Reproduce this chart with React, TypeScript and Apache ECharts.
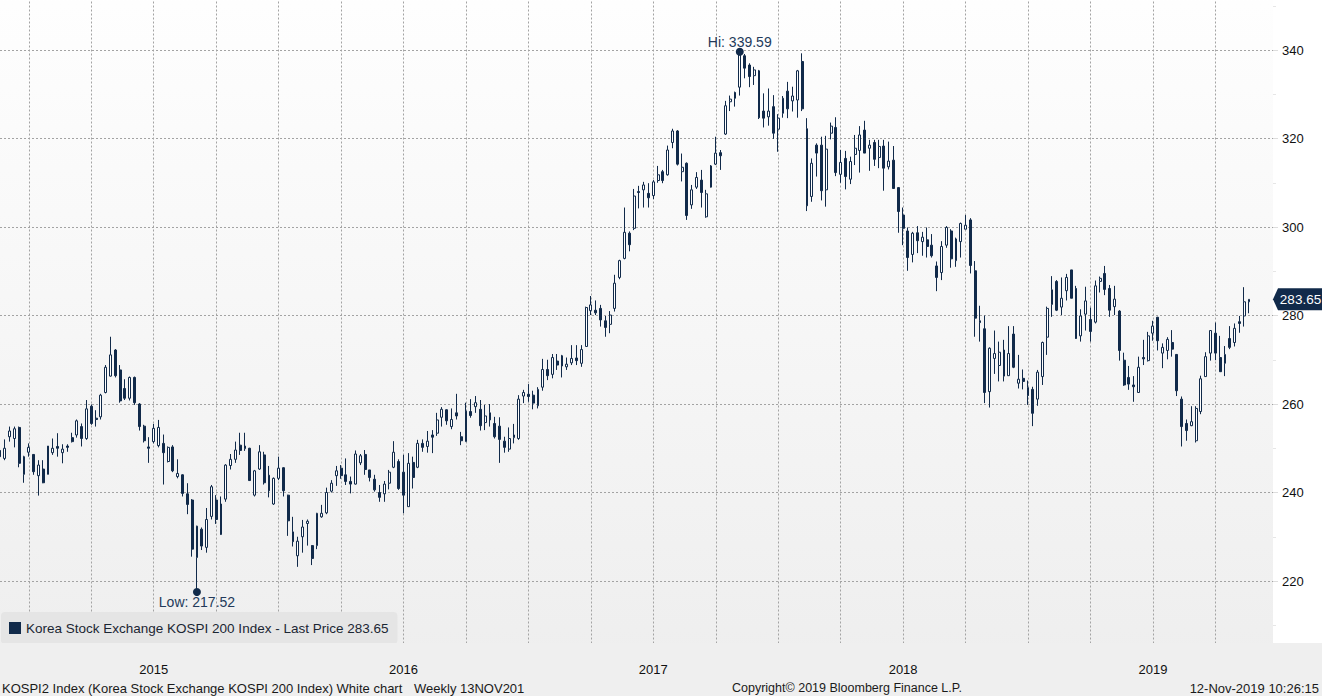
import { useEffect, useRef } from "react";
import * as echarts from "echarts";

// ---- data (weekly bars, KOSPI 200) ----
const opens = [
  249.5, 247.7, 252.6, 252.2, 254.7, 244.1, 249.1, 248.6, 243.8, 245.3,
  244.1, 249.0, 250.4, 249.0, 250.5, 252.4, 253.0, 254.9, 252.2, 259.5,
  256.8, 257.1, 262.6, 266.3, 272.2, 267.7, 263.5, 261.3, 266.0, 260.0,
  255.0, 250.3, 251.5, 250.6, 251.1, 247.0, 250.3, 243.6, 244.0, 239.7,
  238.3, 225.3, 231.7, 227.6, 234.6, 238.3, 230.5, 238.5, 246.1, 247.5,
  250.7, 249.9, 250.0, 239.4, 245.3, 248.5, 243.9, 237.4, 243.2, 245.6,
  239.4, 231.1, 225.7, 230.0, 233.0, 228.0, 228.0, 234.5, 235.4, 240.3,
  243.8, 245.5, 244.0, 242.5, 241.9, 246.7, 248.6, 245.1, 243.0, 240.0,
  239.7, 242.1, 245.7, 247.0, 244.6, 236.8, 246.8, 245.7, 251.1, 250.4,
  253.0, 253.4, 257.0, 258.7, 254.9, 258.0, 252.6, 251.5, 258.3, 259.4,
  258.8, 255.8, 258.0, 255.6, 255.0, 251.6, 249.8, 252.4, 252.2, 261.8,
  262.2, 262.0, 259.6, 263.8, 267.8, 266.7, 269.7, 270.9, 268.4, 269.3,
  270.4, 269.2, 273.0, 281.1, 281.2, 281.6, 278.8, 278.0, 281.6, 288.6,
  292.9, 298.6, 299.7, 308.0, 308.4, 307.6, 307.1, 310.5, 312.5, 311.8,
  319.1, 321.7, 312.5, 314.4, 305.0, 309.0, 310.6, 302.3, 309.0, 314.2,
  316.8, 321.0, 328.3, 330.4, 331.6, 338.7, 336.6, 334.2, 335.3, 326.2,
  324.9, 327.2, 322.1, 325.7, 330.7, 328.5, 328.7, 337.4, 322.2, 306.9,
  318.5, 318.5, 308.4, 321.2, 322.5, 311.9, 315.5, 310.8, 316.4, 317.3,
  321.9, 317.8, 319.1, 315.7, 318.3, 313.6, 315.1, 308.9, 302.7, 299.1,
  293.8, 298.7, 296.7, 297.1, 295.9, 291.2, 289.7, 295.9, 299.1, 292.4,
  296.7, 299.5, 301.6, 290.1, 278.8, 277.0, 262.8, 270.3, 268.7, 272.2,
  266.4, 275.8, 264.7, 265.8, 263.7, 263.3, 261.1, 266.2, 275.1, 282.5,
  287.7, 281.9, 285.6, 290.3, 286.1, 275.4, 280.3, 279.1, 278.5, 287.7,
  289.5, 286.1, 282.0, 281.0, 269.9, 266.0, 264.3, 262.6, 270.5, 269.8,
  276.0, 279.6, 271.5, 272.1, 273.9, 271.2, 261.1, 255.6, 255.1, 251.7,
  258.3, 266.2, 271.5, 276.0, 270.5, 269.2, 274.8, 273.9, 278.6, 279.9,
  283.1,
];

const closes = [
  248.1, 250.0, 253.9, 254.4, 246.6, 248.1, 250.2, 244.7, 246.2, 242.2,
  250.5, 250.0, 250.0, 249.8, 250.2, 251.5, 256.2, 252.2, 258.9, 255.6,
  256.5, 262.0, 268.3, 271.1, 266.4, 260.7, 261.3, 266.0, 260.3, 254.9,
  251.7, 250.0, 254.5, 254.7, 249.0, 250.2, 244.9, 244.3, 239.8, 237.3,
  227.2, 232.4, 227.9, 233.9, 241.3, 233.9, 237.4, 246.2, 247.5, 249.6,
  249.5, 250.5, 242.7, 244.9, 249.2, 242.2, 240.4, 243.2, 245.5, 240.4,
  233.6, 228.9, 229.0, 232.2, 233.5, 225.1, 235.3, 235.3, 240.0, 242.1,
  244.9, 243.8, 242.5, 241.9, 248.7, 248.3, 245.2, 243.4, 240.6, 238.9,
  241.9, 244.6, 249.1, 240.9, 239.4, 246.6, 243.4, 251.1, 250.2, 251.6,
  252.5, 256.4, 258.8, 256.2, 256.5, 257.3, 251.7, 258.4, 257.4, 260.3,
  255.1, 257.3, 256.4, 252.6, 252.0, 250.2, 252.2, 253.0, 261.1, 262.6,
  261.7, 260.2, 263.3, 267.8, 266.4, 270.5, 268.8, 268.6, 269.0, 270.3,
  269.8, 272.3, 281.8, 282.4, 280.6, 279.0, 277.3, 280.1, 287.3, 292.4,
  298.8, 296.0, 307.0, 307.8, 309.5, 306.6, 310.2, 311.8, 310.5, 317.4,
  321.7, 314.2, 313.5, 302.6, 308.4, 311.2, 307.8, 307.5, 313.8, 316.7,
  316.1, 327.4, 328.9, 329.1, 338.9, 335.9, 334.0, 335.5, 324.7, 324.6,
  326.2, 321.2, 324.6, 329.1, 326.7, 329.6, 335.3, 326.7, 304.8, 314.4,
  316.7, 308.2, 317.6, 322.8, 312.3, 314.6, 311.4, 314.8, 317.8, 320.8,
  316.7, 318.5, 315.3, 318.2, 313.3, 314.9, 308.7, 303.5, 299.7, 293.1,
  298.6, 296.9, 297.7, 295.6, 293.5, 288.6, 295.6, 299.9, 292.8, 297.3,
  300.8, 300.4, 291.3, 279.4, 278.4, 262.6, 272.6, 271.4, 271.7, 266.3,
  271.4, 268.3, 265.6, 265.1, 261.9, 257.9, 267.2, 273.9, 281.6, 285.8,
  281.2, 283.9, 288.6, 283.9, 274.8, 279.9, 283.3, 276.4, 286.7, 288.4,
  285.9, 281.2, 283.7, 272.1, 264.3, 264.5, 263.9, 268.3, 270.2, 275.4,
  277.6, 274.3, 272.8, 274.6, 272.4, 263.0, 254.9, 254.0, 256.0, 259.0,
  265.7, 270.7, 276.6, 271.5, 267.3, 271.2, 272.8, 277.1, 278.2, 283.1,
  283.65,
];

const highs = [
  252.2, 252.0, 254.9, 254.9, 254.9, 248.3, 251.1, 248.6, 247.3, 247.3,
  250.5, 252.2, 253.4, 250.9, 250.9, 253.5, 256.5, 255.6, 260.9, 259.9,
  258.6, 262.3, 268.8, 275.2, 272.4, 268.8, 265.6, 266.2, 266.2, 260.2,
  255.3, 252.5, 255.5, 256.4, 253.1, 250.4, 250.7, 247.5, 244.1, 242.1,
  238.5, 232.5, 232.1, 236.5, 241.7, 239.4, 239.1, 246.4, 248.7, 251.5,
  253.5, 253.5, 250.1, 245.1, 250.7, 249.2, 246.0, 243.4, 248.1, 245.7,
  239.5, 234.5, 230.0, 233.8, 233.9, 228.1, 235.4, 237.2, 241.1, 242.8,
  246.0, 246.2, 247.7, 243.6, 249.5, 248.7, 249.6, 245.1, 244.0, 241.7,
  242.6, 245.1, 251.6, 247.5, 248.5, 248.9, 248.1, 251.9, 252.0, 253.9,
  254.1, 258.0, 259.3, 258.8, 259.0, 262.3, 253.7, 260.3, 261.1, 261.8,
  260.9, 259.8, 260.0, 257.1, 257.0, 252.6, 254.7, 255.5, 262.0, 263.2,
  264.5, 263.0, 263.8, 270.2, 270.0, 271.3, 271.3, 271.1, 270.5, 273.3,
  273.3, 273.3, 282.0, 284.4, 283.4, 282.4, 279.9, 281.0, 289.2, 292.6,
  304.4, 299.0, 308.6, 309.3, 310.2, 309.9, 310.6, 313.8, 312.9, 318.4,
  322.2, 321.9, 316.6, 314.6, 309.5, 312.4, 312.9, 308.4, 314.0, 320.4,
  317.4, 328.5, 329.7, 330.6, 339.59, 339.1, 337.0, 336.2, 335.5, 330.2,
  331.3, 329.8, 325.5, 329.6, 332.8, 331.7, 335.5, 339.25, 324.6, 315.5,
  318.9, 320.4, 320.6, 323.6, 324.8, 317.4, 317.2, 315.9, 320.8, 322.8,
  324.0, 319.7, 319.7, 319.7, 319.7, 319.3, 318.3, 309.0, 304.4, 299.9,
  298.9, 300.2, 298.9, 299.9, 298.4, 292.2, 296.8, 300.2, 299.5, 297.6,
  301.0, 302.7, 302.0, 292.3, 282.2, 280.0, 272.8, 276.6, 274.1, 274.5,
  277.6, 277.6, 271.1, 267.8, 265.3, 263.9, 267.7, 274.1, 282.0, 288.9,
  288.0, 288.6, 289.4, 290.3, 286.7, 281.4, 286.5, 281.8, 287.9, 288.8,
  291.2, 286.9, 286.7, 281.2, 271.6, 268.6, 266.3, 270.7, 274.5, 276.3,
  278.8, 279.7, 273.7, 275.1, 276.7, 271.3, 261.7, 256.5, 259.5, 259.5,
  266.4, 271.7, 276.7, 278.4, 275.4, 273.1, 277.6, 278.2, 279.9, 286.4,
  283.65,
];

const lows = [
  247.7, 247.3, 251.5, 250.2, 245.7, 242.2, 248.1, 244.0, 239.3, 242.1,
  244.1, 248.5, 248.1, 246.6, 249.2, 251.3, 252.4, 250.4, 251.9, 255.3,
  254.9, 256.5, 262.4, 266.2, 266.0, 260.3, 260.9, 260.8, 259.8, 254.0,
  251.3, 246.7, 251.1, 250.2, 241.8, 246.8, 244.6, 243.2, 239.1, 235.1,
  225.5, 217.52, 227.0, 226.4, 233.9, 232.9, 230.4, 237.9, 245.2, 246.7,
  248.5, 249.4, 242.6, 239.1, 245.1, 241.8, 238.9, 237.2, 242.8, 239.1,
  230.2, 227.8, 223.2, 226.4, 228.0, 223.6, 227.2, 234.3, 235.1, 240.0,
  241.5, 243.1, 241.7, 239.8, 241.8, 246.2, 244.0, 242.5, 240.2, 237.9,
  237.9, 240.7, 245.5, 240.6, 235.3, 236.8, 240.9, 245.5, 249.2, 249.0,
  248.9, 252.8, 254.9, 255.3, 254.3, 256.5, 250.7, 251.5, 256.9, 258.0,
  254.0, 254.1, 254.9, 252.2, 246.7, 249.0, 249.2, 251.1, 251.9, 260.2,
  260.5, 258.8, 259.0, 263.0, 265.4, 265.8, 267.7, 266.0, 267.7, 268.8,
  268.8, 268.4, 273.0, 280.1, 280.1, 277.5, 275.2, 276.0, 280.9, 288.2,
  292.7, 294.5, 299.3, 304.2, 304.4, 304.4, 306.3, 310.0, 309.9, 311.6,
  317.8, 313.9, 310.3, 301.6, 304.1, 308.6, 304.4, 302.1, 308.9, 314.0,
  312.9, 320.8, 326.2, 327.2, 329.7, 333.6, 331.6, 332.1, 324.4, 322.5,
  322.9, 319.9, 317.0, 324.7, 324.6, 326.1, 324.7, 326.2, 303.6, 305.7,
  311.4, 306.0, 304.6, 319.8, 311.5, 310.0, 308.5, 309.7, 314.0, 312.3,
  316.7, 312.7, 313.8, 313.3, 308.2, 313.0, 308.6, 298.7, 295.9, 290.1,
  292.0, 294.1, 293.5, 293.1, 293.1, 285.5, 288.0, 295.3, 290.8, 291.0,
  293.1, 299.5, 289.5, 275.2, 274.1, 260.2, 259.2, 266.8, 265.1, 265.1,
  266.4, 268.1, 263.5, 263.3, 259.8, 255.0, 259.6, 264.3, 271.1, 279.7,
  281.0, 280.1, 283.4, 283.9, 274.7, 274.1, 276.6, 274.1, 278.2, 285.2,
  284.6, 279.7, 280.1, 269.8, 264.1, 263.2, 260.5, 262.6, 268.8, 269.6,
  274.3, 272.1, 268.1, 270.1, 270.7, 261.8, 250.4, 251.7, 255.0, 251.3,
  257.7, 266.2, 269.8, 269.9, 267.3, 266.3, 272.4, 273.0, 276.1, 277.5,
  280.5,
];

const seriesName = "Korea Stock Exchange KOSPI 200 Index - Last Price 283.65";
const lastPrice = 283.65;
const yMin = 200;
const yMax = 360;
const yStep = 20;
const footerLeft = "KOSPI2 Index (Korea Stock Exchange KOSPI 200 Index) White chart";
const footerWeekly = "Weekly 13NOV201";
const footerCopy = "Copyright\u00A9 2019 Bloomberg Finance L.P.";
const footerStamp = "12-Nov-2019 10:26:15";

// weekly axis slots (week-start Mondays), a few empty weeks after the last bar
const FIRST_WEEK_UTC = Date.UTC(2014, 10, 17);
const AXIS_WEEKS = 266;
const DAY = 86400000;
const weeks: string[] = [];
for (let i = 0; i < AXIS_WEEKS; i++) {
  weeks.push(new Date(FIRST_WEEK_UTC + i * 7 * DAY).toISOString().slice(0, 10));
}
function quarterStartAt(i: number): Date | null {
  for (let k = 2; k <= 8; k++) {
    const d = new Date(FIRST_WEEK_UTC + (i * 7 + k) * DAY);
    if (d.getUTCDate() === 1 && d.getUTCMonth() % 3 === 0) return d;
  }
  return null;
}

const NAVY = "#112a4a";
const FONT = "'Liberation Sans', Arial, sans-serif";
const GRID_LINE = { color: "#a3a3a3", type: [2, 2] as number[], width: 1 };

// the chart canvas is taller than the page and shifted up, so the value axis
// (200..360) can run past the visible top edge
const W = 1322;
const H = 696;
const SHIFT = 39;

export default function App() {
  const ref = useRef<HTMLDivElement>(null);
  useEffect(() => {
    document.body.style.margin = "0";
    const chart = echarts.init(ref.current!, null, { renderer: "svg" });

    const candles = opens.map((o, i) => [o, closes[i], lows[i], highs[i]]);
    let hiIdx = 0;
    let loIdx = 0;
    highs.forEach((h, i) => { if (h > highs[hiIdx]) hiIdx = i; });
    lows.forEach((l, i) => { if (l < lows[loIdx]) loIdx = i; });

    const option: any = {
      animation: false,
      backgroundColor: "#ffffff",
      textStyle: { fontFamily: FONT },
      grid: {
        left: 0,
        right: 49,
        top: SHIFT - 38.5,
        bottom: 26.5,
        show: true,
        borderWidth: 0,
        backgroundColor: new echarts.graphic.LinearGradient(0, 0, 0, 1, [
          { offset: 0, color: "#ffffff" },
          { offset: 1, color: "#eeeeee" },
        ]),
      },
      legend: {
        left: 1,
        top: 612 + SHIFT,
        padding: [9, 9, 9, 8],
        backgroundColor: "#e5e5e5",
        borderRadius: 4,
        itemWidth: 12,
        itemHeight: 12,
        selectedMode: false,
        textStyle: { color: "#1b2633", fontSize: 13.5, fontFamily: FONT },
        data: [
          { name: seriesName, icon: "rect", itemStyle: { color: NAVY, borderWidth: 0 } },
        ],
      },
      xAxis: [
        {
          type: "category",
          data: weeks,
          boundaryGap: false,
          axisLine: { show: false },
          axisTick: { show: false },
          axisLabel: { show: false },
          splitLine: {
            show: true,
            interval: (i: number) => quarterStartAt(i) !== null,
            lineStyle: GRID_LINE,
          },
        },
        {
          type: "category",
          data: weeks,
          boundaryGap: false,
          position: "bottom",
          z: 10,
          axisLine: { show: false },
          axisTick: { show: false },
          splitLine: { show: false },
          axisLabel: {
            show: true,
            margin: -7,
            color: "#111111",
            fontSize: 13,
            fontFamily: FONT,
            interval: (i: number) => {
              const q = quarterStartAt(i);
              return q !== null && q.getUTCMonth() === 6;
            },
            formatter: (v: string) => v.slice(0, 4),
          },
        },
      ],
      yAxis: {
        type: "value",
        position: "right",
        min: yMin,
        max: yMax,
        interval: yStep,
        axisLine: { show: false },
        axisTick: { show: true, length: 5, lineStyle: { color: "#dddddd" } },
        minorTick: { show: true, splitNumber: 2, length: 3, lineStyle: { color: "#e6e6e6" } },
        axisLabel: {
          margin: 9,
          color: "#111111",
          fontSize: 13,
          fontFamily: FONT,
          showMinLabel: false,
          showMaxLabel: false,
        },
        splitLine: { show: true, lineStyle: GRID_LINE },
      },
      series: [
        {
          type: "candlestick",
          name: seriesName,
          xAxisIndex: 0,
          yAxisIndex: 0,
          data: candles,
          barWidth: 2.4,
          clip: true,
          itemStyle: {
            color: "#ffffff",
            color0: NAVY,
            borderColor: NAVY,
            borderColor0: NAVY,
            borderWidth: 1,
          },
          markPoint: {
            silent: true,
            data: [
              {
                coord: [weeks[hiIdx], highs[hiIdx]],
                symbol: "circle",
                symbolSize: 8,
                itemStyle: { color: NAVY },
                label: {
                  show: true,
                  position: "top",
                  distance: -1,
                  formatter: "Hi: " + highs[hiIdx].toFixed(2),
                  color: "#233a5a",
                  fontSize: 14,
                  fontFamily: FONT,
                },
              },
              {
                coord: [weeks[loIdx], lows[loIdx]],
                symbol: "circle",
                symbolSize: 8,
                itemStyle: { color: NAVY },
                label: {
                  show: true,
                  position: "bottom",
                  distance: -1,
                  formatter: "Low: " + lows[loIdx].toFixed(2),
                  color: "#233a5a",
                  fontSize: 14,
                  fontFamily: FONT,
                },
              },
              {
                coord: [weeks[AXIS_WEEKS - 1], lastPrice],
                symbol: "path://M0,11 L5,0 L49,0 L49,22 L5,22 Z",
                symbolSize: [49, 22],
                symbolOffset: [24.5, 0],
                symbolKeepAspect: false,
                itemStyle: { color: NAVY },
                label: {
                  show: true,
                  position: "inside",
                  offset: [3, 0],
                  formatter: lastPrice.toFixed(2),
                  color: "#ffffff",
                  fontSize: 13.5,
                  fontFamily: FONT,
                },
              },
            ],
          },
        },
      ],
      graphic: [
        {
          type: "rect",
          z: 5,
          silent: true,
          shape: { x: 0, y: 643 + SHIFT, width: W, height: 60 },
          style: { fill: "#efefef" },
        },
        {
          type: "text",
          z: 6,
          x: 2,
          y: 688 + SHIFT,
          style: { text: footerLeft, fill: "#1a1a1a", fontSize: 13, fontFamily: FONT, align: "left", verticalAlign: "middle" },
        },
        {
          type: "text",
          z: 6,
          x: 414,
          y: 688 + SHIFT,
          style: { text: footerWeekly, fill: "#1a1a1a", fontSize: 13, fontFamily: FONT, align: "left", verticalAlign: "middle" },
        },
        {
          type: "text",
          z: 6,
          x: 732,
          y: 688 + SHIFT,
          style: { text: footerCopy, fill: "#1a1a1a", fontSize: 12.5, fontFamily: FONT, align: "left", verticalAlign: "middle" },
        },
        {
          type: "text",
          z: 6,
          x: 1319,
          y: 688 + SHIFT,
          style: { text: footerStamp, fill: "#1a1a1a", fontSize: 13, fontFamily: FONT, align: "right", verticalAlign: "middle" },
        },
      ],
    };

    chart.setOption(option);
    return () => chart.dispose();
  }, []);
  return (
    <div style={{ position: "relative", width: W, height: H, overflow: "hidden" }}>
      <div ref={ref} style={{ position: "absolute", left: 0, top: -SHIFT, width: W, height: H + SHIFT }} />
    </div>
  );
}
